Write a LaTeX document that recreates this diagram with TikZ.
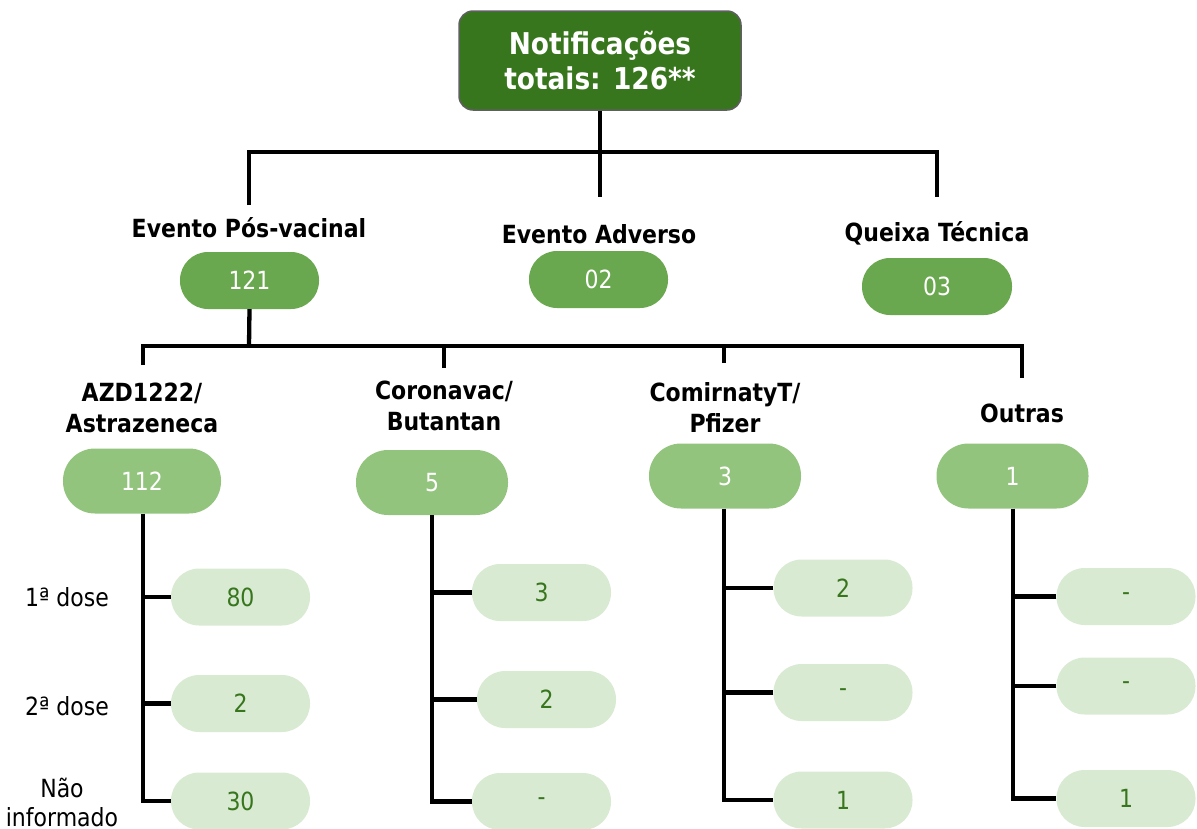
\documentclass[tikz,border=0pt]{standalone}
\usepackage{fontspec}
\setmainfont{DejaVu Sans}[FakeStretch=0.88]
\definecolor{topgreen}{HTML}{38761D}
\definecolor{midgreen}{HTML}{6AA84F}
\definecolor{lightgreen}{HTML}{93C47D}
\definecolor{palegreen}{HTML}{D9EAD3}
\definecolor{leaftext}{HTML}{38761D}
\definecolor{topborder}{HTML}{5F5F5F}
\tikzset{
  topbox/.style={draw=topborder, line width=1.5pt, fill=topgreen, rounded corners=14pt,
    minimum width=282pt, minimum height=99pt, text=white, align=center, inner sep=0pt,
    font=\bfseries\fontsize{30}{35}\selectfont},
  pillA/.style={fill=midgreen, rounded corners=28pt, minimum width=139pt, minimum height=57pt,
    text=white, inner sep=0pt, font=\fontsize{25}{28}\selectfont},
  pillB/.style={fill=lightgreen, rounded corners=32pt, minimum width=152pt, minimum height=65pt,
    text=white, inner sep=0pt, font=\fontsize{25}{28}\selectfont},
  leaf/.style={fill=palegreen, rounded corners=28pt, minimum width=139pt, minimum height=57pt,
    text=leaftext, inner sep=0pt, font=\fontsize{25}{28}\selectfont},
  catlabel/.style={align=center, inner sep=0pt, font=\bfseries\fontsize{25}{31}\selectfont},
  doselabel/.style={align=center, inner sep=0pt, font=\fontsize{25}{29}\selectfont},
  conn/.style={draw=black, line width=4.3pt},
}
\begin{document}
\begin{tikzpicture}[x=1pt,y=-1pt]
\useasboundingbox (0,0) rectangle (1197,828);

% top
\node[topbox] (top) at (600,60.5) {Notificações\\totais: 126**};

% level 1 labels and pills
\node[catlabel] (lab1) at (249,228) {Evento Pós-vacinal};
\node[catlabel] (lab2) at (599,234) {Evento Adverso};
\node[catlabel] (lab3) at (937,233) {Queixa Técnica};
\node[pillA] (p1) at (249.5,280.5) {121};
\node[pillA] (p2) at (598.5,279.5) {02};
\node[pillA, minimum width=150pt] (p3) at (937,286.5) {03};

\coordinate (j0) at (600,152);
\coordinate (e1) at (249,205);
\coordinate (e2) at (600,197);
\coordinate (e3) at (937,197);
\draw[conn] (top.south) -- (e2);
\draw[conn] (e1) |- (j0) -| (e3);

% level 2 labels and pills
\node[catlabel] (c1) at (142,407.5) {AZD1222/\\Astrazeneca};
\node[catlabel] (c2) at (444,405.5) {Coronavac/\\Butantan};
\node[catlabel] (c3) at (725,407.5) {ComirnatyT/\\Pfizer};
\node[catlabel] (c4) at (1022,413) {Outras};
\node[pillB, minimum width=158pt] (b1) at (142,481) {112};
\node[pillB] (b2) at (432,482.5) {5};
\node[pillB] (b3) at (725,476) {3};
\node[pillB] (b4) at (1012.5,476) {1};

\coordinate (j1) at (249,346);
\coordinate (f1) at (143,365);
\coordinate (f2) at (444,368);
\coordinate (f3) at (724,363);
\coordinate (f4) at (1022,378);
\draw[conn] (p1.south) -- (j1);
\draw[conn] (f1) |- (j1) -| (f4);
\draw[conn] (f2) -- (f2 |- j1);
\draw[conn] (f3) -- (f3 |- j1);

% leaves AZD
\node[leaf] (l11) at (240.5,597) {80};
\node[leaf] (l12) at (240.5,703.5) {2};
\node[leaf] (l13) at (240.5,801) {30};
% leaves Coronavac
\node[leaf] (l21) at (541.5,592.5) {3};
\node[leaf] (l22) at (546.5,699.5) {2};
\node[leaf] (l23) at (541.5,801.5) {-};
% leaves Comirnaty
\node[leaf] (l31) at (843,588) {2};
\node[leaf] (l32) at (843,692.5) {-};
\node[leaf] (l33) at (843,800) {1};
% leaves Outras
\node[leaf] (l41) at (1126,596.5) {-};
\node[leaf] (l42) at (1126,686) {-};
\node[leaf] (l43) at (1126,798.5) {1};

% dose labels
\node[doselabel] (d1) at (67,597) {1ª dose};
\node[doselabel] (d2) at (67,706) {2ª dose};
\node[doselabel] (d3) at (62,802) {Não\\informado};

% branches
\coordinate (v1) at (143,0);
\coordinate (v2) at (432,0);
\coordinate (v3) at (724,0);
\coordinate (v4) at (1013,0);
\draw[conn] (b1.south -| v1) |- (l13.west);
\draw[conn] (l11.west) -- (l11.west -| v1);
\draw[conn] (l12.west) -- (l12.west -| v1);
\draw[conn] (b2.south -| v2) |- (l23.west);
\draw[conn] (l21.west) -- (l21.west -| v2);
\draw[conn] (l22.west) -- (l22.west -| v2);
\draw[conn] (b3.south -| v3) |- (l33.west);
\draw[conn] (l31.west) -- (l31.west -| v3);
\draw[conn] (l32.west) -- (l32.west -| v3);
\draw[conn] (b4.south -| v4) |- (l43.west);
\draw[conn] (l41.west) -- (l41.west -| v4);
\draw[conn] (l42.west) -- (l42.west -| v4);
\end{tikzpicture}
\end{document}
